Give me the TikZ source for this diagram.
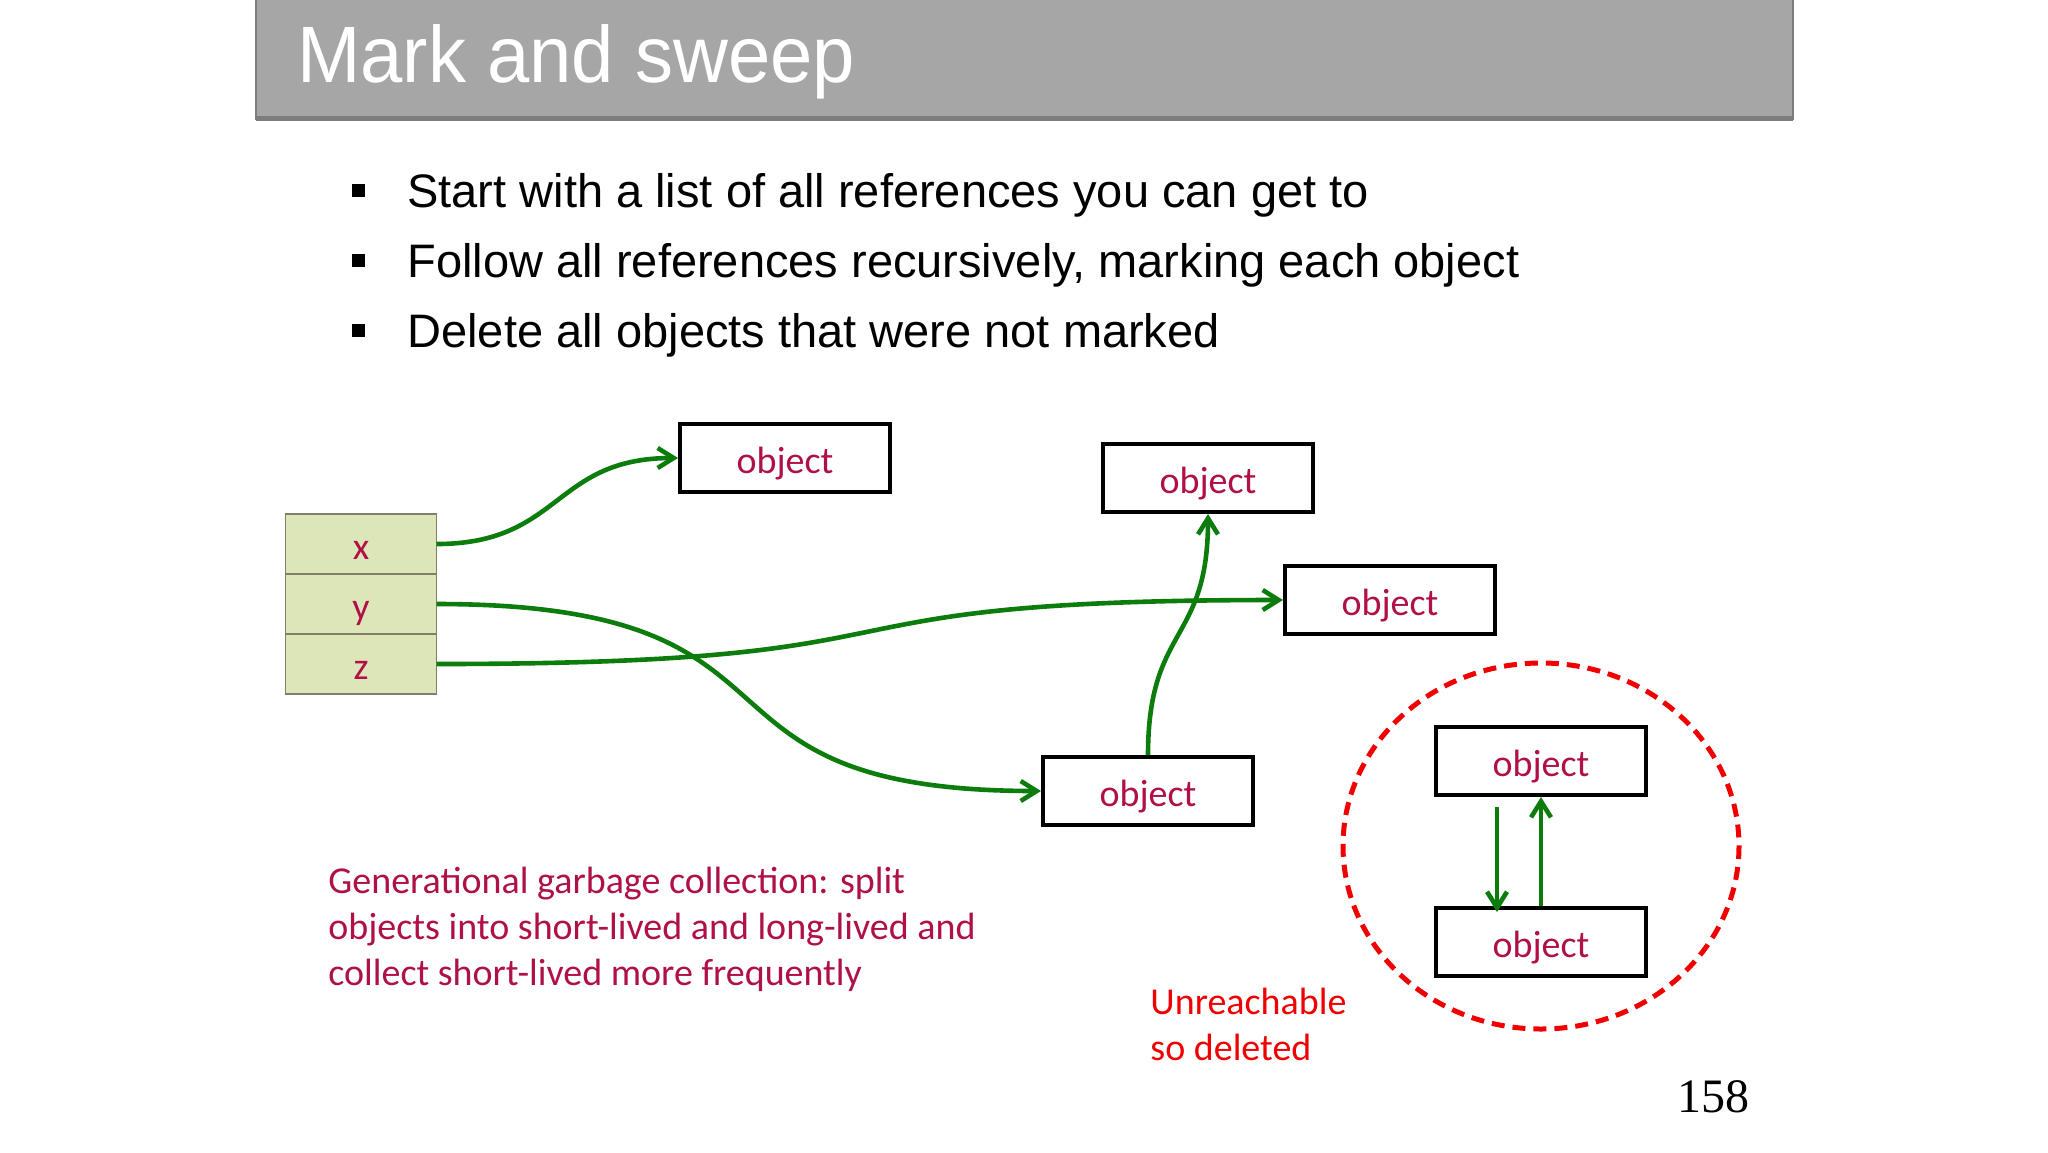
\documentclass[tikz,border=0pt]{standalone}
\usepackage{fontspec}
\usepackage{graphicx}
\setmainfont{Liberation Sans}
\newfontfamily\slidefont{Carlito}
\newfontfamily\pagefont{Liberation Serif}
\usetikzlibrary{positioning,arrows.meta}

\definecolor{titlegray}{RGB}{166,166,166}
\definecolor{titleedge}{RGB}{125,125,125}
\definecolor{objtext}{RGB}{176,16,72}
\definecolor{deadred}{RGB}{240,0,0}
\definecolor{refgreen}{RGB}{12,125,12}
\definecolor{cellfill}{RGB}{221,230,184}
\definecolor{cellborder}{RGB}{128,128,104}

\tikzset{
	objbox/.style={draw, line width=2pt, minimum width=105pt, minimum height=34pt, inner sep=0pt,
		font=\slidefont\fontsize{19pt}{23pt}\selectfont, text=objtext, text height=15.5pt, text depth=0pt},
	cell/.style={draw=cellborder, fill=cellfill, line width=0.75pt, minimum width=75.5pt, minimum height=30pt,
		inner sep=0pt, outer sep=0pt, font=\slidefont\fontsize{19pt}{23pt}\selectfont, text=objtext,
		text height=15.5pt, text depth=0pt},
	pointer/.style={draw=refgreen, line width=2.3pt, -{Straight Barb[length=8pt,width=10pt]}},
	bulletbox/.style={fill=black, minimum size=6.5pt, inner sep=0pt},
	bullettext/.style={anchor=base west, inner sep=0pt, font=\fontsize{23.5pt}{28pt}\selectfont},
	note/.style={anchor=base west, inner sep=0pt, align=left, font=\slidefont\fontsize{19pt}{23pt}\selectfont}
}

\begin{document}
\begin{tikzpicture}[x=0.5pt, y=-0.5pt]
	\useasboundingbox (0,0) rectangle (2048,1152);

	% title bar
	\filldraw[fill=titlegray, draw=titleedge, line width=0.75pt] (256,-2) rectangle (1793,119);
	\fill[titleedge] (256,116) rectangle (1793,121);
	\node[anchor=base west, inner sep=0pt, text=white, font=\fontsize{40pt}{48pt}\selectfont] (title) at (297,82)
		{\scalebox{0.95}[1]{Mark and sweep}};

	% bullets
	\node[bulletbox] (b1) at (358,190) {};
	\node[bulletbox] (b2) at (358,260) {};
	\node[bulletbox] (b3) at (358,330) {};
	\node[bullettext] (t1) at (407,207) {Start with a list of all references you can get to};
	\node[bullettext] (t2) at (407,277) {Follow all references recursively, marking each object};
	\node[bullettext] (t3) at (407,347) {Delete all objects that were not marked};

	% variables
	\node[cell] (x) at (361,544) {x};
	\node[cell, below=0pt of x] (y) {y};
	\node[cell, below=0pt of y] (z) {z};

	% objects
	\node[objbox] (o1) at (785,458) {object};
	\node[objbox] (o2) at (1208,478) {object};
	\node[objbox] (o3) at (1390,600) {object};
	\node[objbox] (o4) at (1148,791) {object};
	\node[objbox] (o5) at (1541,761) {object};
	\node[objbox] (o6) at (1541,942) {object};

	\draw[pointer] (x.east) .. controls +(125,0) and +(-125,0) .. (o1.west);
	\draw[pointer] (y.east) .. controls +(400,0) and +(-380,0) .. (o4.west);
	\draw[pointer] (z.east) .. controls +(540,0) and +(-520,0) .. (o3.west);
	\draw[pointer] (o4.north) .. controls +(0,-130) and +(0,130) .. (o2.south);

	% unreachable cycle
	\draw[pointer] ([xshift=-22pt,yshift=-5pt]o5.south) -- ([xshift=-22pt,yshift=-3pt]o6.north);
	\draw[pointer] (o6.north) -- (o5.south);
	\draw[deadred, line width=2.5pt, dash pattern=on 6.5pt off 4pt] (1541,846) ellipse [x radius=198, y radius=183];

	\node[note, text=objtext] (gen) at (328,985)
		{Generational garbage collection: split\\objects into short-lived and long-lived and\\collect short-lived more frequently};
	\node[note, text=deadred] (dead) at (1150,1060) {Unreachable\\so deleted};

	\node[anchor=base west, inner sep=0pt, font=\pagefont\fontsize{24pt}{28pt}\selectfont] (pageno) at (1677,1112) {158};
\end{tikzpicture}
\end{document}
